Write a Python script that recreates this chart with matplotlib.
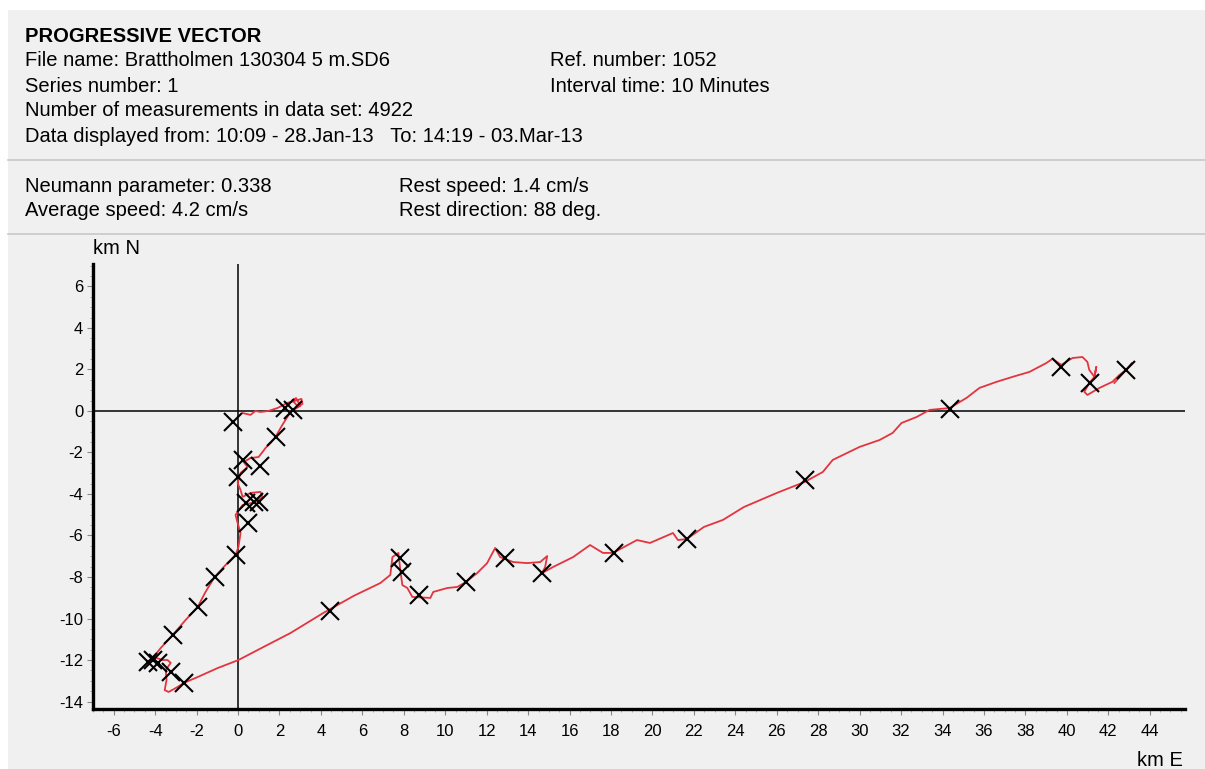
import matplotlib
matplotlib.use("Agg")
import matplotlib.pyplot as plt
from matplotlib.patches import Rectangle
from matplotlib.lines import Line2D
from matplotlib.ticker import MultipleLocator

plt.rcParams['font.family'] = ['Liberation Sans', 'DejaVu Sans']
plt.rcParams['axes.unicode_minus'] = False

W, H = 1205, 769

# header text
title = "PROGRESSIVE VECTOR"
info_left = [
    "File name: Brattholmen 130304 5 m.SD6",
    "Series number: 1",
    "Number of measurements in data set: 4922",
    "Data displayed from: 10:09 - 28.Jan-13   To: 14:19 - 03.Mar-13",
]
info_right = ["Ref. number: 1052", "Interval time: 10 Minutes"]
stats_left = ["Neumann parameter: 0.338", "Average speed: 4.2 cm/s"]
stats_right = ["Rest speed: 1.4 cm/s", "Rest direction: 88 deg."]

# progressive vector track (km east, km north)
track_e = [0.22, 0.60, 0.84, 1.08, 1.47, 1.90, 2.39, 2.87, 3.06, 3.11, 2.90, 2.62, 2.80, 3.00,
           2.53, 2.14, 1.81, 1.57, 1.33, 1.18, 0.99, 0.60, 0.27, 0.46, 0.12, -0.02, 0.12, 0.22,
           0.60, 1.08, 1.18, 0.84, 0.22, -0.12, -0.02, 0.12, 0.02, -0.12, -0.60, -1.13, -1.57,
           -1.95, -2.53, -3.16, -3.73, -4.12, -4.36, -4.07, -3.64, -3.40, -3.25, -3.49, -3.45,
           -3.54, -3.35, -2.92, -2.63, -1.95, -0.99, 0.02, 1.23, 2.53, 4.12, 5.60, 6.87, 7.35,
           7.45, 7.74, 7.83, 7.93, 8.17, 8.41, 9.28, 9.42, 10.10, 10.58, 11.00, 11.54, 12.02,
           12.41, 12.65, 13.28, 13.95, 14.58, 14.92, 14.82, 14.67, 15.20, 16.17, 16.99, 17.61,
           18.10, 19.25, 19.88, 20.99, 21.23, 21.66, 22.48, 23.40, 24.41, 26.00, 27.35, 28.22,
           28.70, 30.00, 30.96, 31.59, 32.02, 32.75, 33.37, 34.34, 35.16, 35.78, 36.60, 37.37,
           38.19, 39.01, 39.30, 39.73, 40.27, 40.75, 40.99, 41.08, 41.33, 41.42, 41.33, 41.08,
           40.84, 40.99, 41.57, 42.19, 42.53, 42.86, 43.15, 42.29]
track_n = [-0.10, -0.19, 0.00, -0.05, 0.00, 0.14, 0.39, 0.53, 0.58, 0.34, 0.20, 0.52, 0.62, 0.25,
           -0.05, -0.67, -1.25, -1.54, -1.78, -1.98, -2.22, -2.27, -2.46, -2.70, -2.99, -3.47,
           -3.81, -4.14, -3.95, -3.90, -4.14, -4.39, -4.53, -5.01, -5.40, -5.88, -6.55, -6.94,
           -7.42, -8.00, -8.72, -9.45, -10.07, -10.80, -11.42, -11.90, -12.14, -11.86, -12.00,
           -12.00, -12.14, -12.48, -12.96, -13.45, -13.54, -13.30, -13.11, -12.82, -12.39,
           -12.00, -11.37, -10.70, -9.73, -8.90, -8.29, -7.90, -7.04, -6.84, -7.66, -8.39,
           -8.53, -8.96, -9.01, -8.72, -8.53, -8.48, -8.24, -7.81, -7.33, -6.60, -7.04, -7.28,
           -7.33, -7.28, -6.99, -7.52, -7.81, -7.52, -7.04, -6.46, -6.84, -6.84, -6.22, -6.36,
           -5.88, -6.22, -6.17, -5.59, -5.25, -4.63, -3.95, -3.42, -2.94, -2.36, -1.73, -1.40,
           -1.06, -0.58, -0.29, 0.05, 0.14, 0.63, 1.11, 1.40, 1.64, 1.88, 2.31, 2.51, 2.22,
           2.55, 2.60, 2.36, 1.98, 1.64, 2.12, 1.64, 1.35, 0.92, 0.77, 1.11, 1.40, 1.73, 1.98,
           2.31, 1.35]

# daily position marks
mark_e = [-0.22, 2.29, 2.63, 1.81, 0.22, 1.04, 0.02, 0.36, 0.75, 0.99, 0.46, -0.12, -1.13,
          -1.95, -3.16, -4.36, -4.12, -3.88, -3.25, -2.63, 4.46, 7.83, 7.93, 8.75, 11.00,
          12.89, 14.67, 18.14, 21.66, 27.35, 34.34, 39.73, 41.13, 42.86]
mark_n = [-0.53, 0.14, 0.05, -1.25, -2.36, -2.65, -3.18, -4.43, -4.39, -4.39, -5.40, -6.94,
          -8.00, -9.45, -10.80, -12.10, -12.00, -12.14, -12.58, -13.10, -9.64, -7.08, -7.76,
          -8.87, -8.24, -7.08, -7.81, -6.84, -6.17, -3.33, 0.10, 2.12, 1.35, 1.98]

BG = '#f0f0f0'
HFS = 14.5


def fx(px):
    return px / W


def fy(py):
    return 1 - py / H


fig = plt.figure(figsize=(W / 100, H / 100), dpi=100)
fig.patch.set_facecolor('white')
fig.add_artist(Rectangle((fx(8), 0), 1 - fx(8), fy(10), transform=fig.transFigure,
                         facecolor=BG, edgecolor='none', zorder=0))
for ly in (160, 234):
    fig.add_artist(Line2D([fx(8), 1], [fy(ly), fy(ly)], transform=fig.transFigure,
                          color='#c8c8c8', lw=1.2))

fig.text(fx(25), fy(36), title, fontsize=HFS, fontweight='bold', va='center')
for i, s in enumerate(info_left):
    fig.text(fx(25), fy(61 + 25 * i), s, fontsize=HFS, va='center')
for i, s in enumerate(info_right):
    fig.text(fx(550), fy(61 + 25 * i), s, fontsize=HFS, va='center')
for i, s in enumerate(stats_left):
    fig.text(fx(25), fy(187 + 24 * i), s, fontsize=HFS, va='center')
for i, s in enumerate(stats_right):
    fig.text(fx(399), fy(187 + 24 * i), s, fontsize=HFS, va='center')

ax = fig.add_axes([fx(93), fy(709), fx(1185) - fx(93), fy(264) - fy(709)])
ax.set_facecolor(BG)
ax.set_xlim(-7, 45.7)
ax.set_ylim(-14.36, 7.08)

ax.axhline(0, color='black', lw=1.1, zorder=1)
ax.axvline(0, color='black', lw=1.1, zorder=1)
ax.plot(track_e, track_n, color='#e3343f', lw=1.3, zorder=2)
ax.plot(mark_e, mark_n, ls='none', marker='x', ms=12.5, mew=1.5, color='black', zorder=3)

for side in ('top', 'right'):
    ax.spines[side].set_visible(False)
for side in ('left', 'bottom'):
    ax.spines[side].set_linewidth(2.4)

ax.xaxis.set_major_locator(MultipleLocator(2))
ax.xaxis.set_minor_locator(MultipleLocator(0.5))
ax.yaxis.set_major_locator(MultipleLocator(2))
ax.yaxis.set_minor_locator(MultipleLocator(0.5))
ax.tick_params(which='major', direction='out', length=4, width=0.8, color='#888888',
               labelsize=12, labelcolor='black')
ax.tick_params(which='minor', direction='out', length=2.5, width=0.7, color='#aaaaaa')
ax.tick_params(axis='x', which='major', pad=7)
ax.tick_params(axis='y', which='major', pad=3)

fig.text(fx(93), fy(248), "km N", fontsize=HFS, va='center', ha='left')
fig.text(fx(1183), fy(766), "km E", fontsize=HFS, va='baseline', ha='right')

fig.savefig('out.png', dpi=100, facecolor=fig.get_facecolor())
